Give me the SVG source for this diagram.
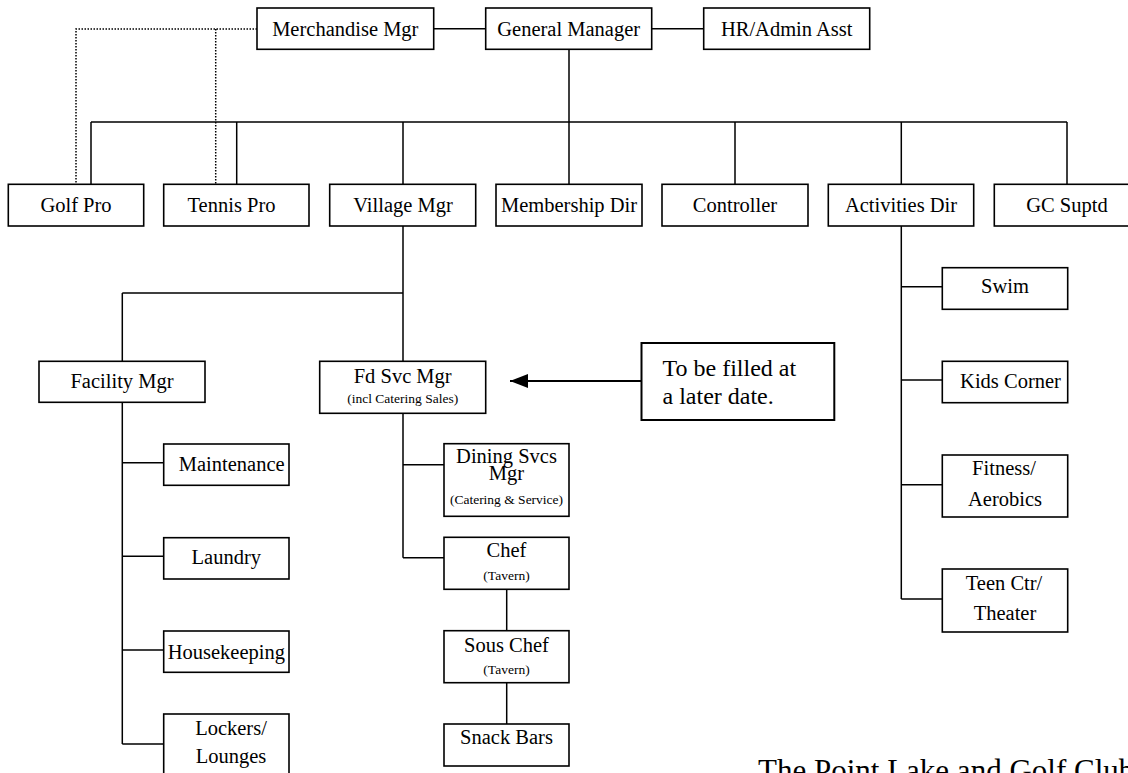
<svg xmlns="http://www.w3.org/2000/svg" width="1128" height="773" viewBox="0 0 1128 773">
<style>
.b{fill:#fff;stroke:#000;stroke-width:1.6}
.t{font-family:"Liberation Serif","Times New Roman",serif;font-size:20.5px;fill:#000;text-anchor:middle}
.s{font-family:"Liberation Serif","Times New Roman",serif;font-size:13.5px;fill:#000;text-anchor:middle}
.c{fill:none;stroke:#000;stroke-width:1.5}
.d{fill:none;stroke:#000;stroke-width:1.5;stroke-dasharray:1.5 1.5}
</style>
<defs>
<marker id="ah" markerWidth="9" markerHeight="7" refX="9" refY="3.5" orient="auto" markerUnits="strokeWidth"><path d="M0,0 L9,3.5 L0,7 Z" fill="#000"/></marker>
</defs>
<rect width="1128" height="773" fill="#fff"/>
<g id="connectors">
<path class="d" d="M257,29 H76 V184 M215.7,29 V184"/>
<path class="c" d="M433.7,28.7 H485.7 M651.7,28.7 H703.7"/>
<path class="c" d="M569,49 V184 M91,122 H1067 M91,122 V184 M236.7,122 V184 M403,122 V184 M735,122 V184 M901.3,122 V184 M1067,122 V184"/>
<path class="c" d="M403,226 V361 M122.3,293 H403 M122.3,293 V361"/>
<path class="c" d="M122.3,402 V744 M122.3,462.7 H163.7 M122.3,556.3 H163.7 M122.3,650 H163.7 M122.3,744 H163.7"/>
<path class="c" d="M403,413 V557.7 M403,464.7 H444 M403,557.7 H444 M506.7,589.3 V630.7 M506.7,682.7 V724"/>
<path class="c" d="M901.3,226 V599 M901.3,286.7 H942.3 M901.3,380 H942.3 M901.3,484.7 H942.3 M901.3,599 H942.3"/>
<path fill="none" stroke="#000" stroke-width="2" d="M641.5,381 H510" marker-end="url(#ah)"/>
</g>
<g id="merchandise-mgr"><rect class="b" x="257" y="8" width="176.7" height="41.3"/><text class="t" x="345.3" y="35.5">Merchandise Mgr</text></g>
<g id="general-manager"><rect class="b" x="485.7" y="8" width="166" height="41.3"/><text class="t" x="568.7" y="35.5">General Manager</text></g>
<g id="hr-admin-asst"><rect class="b" x="703.7" y="8" width="166" height="41.3"/><text class="t" x="786.7" y="35.5">HR/Admin Asst</text></g>
<g id="golf-pro"><rect class="b" x="8.3" y="184.3" width="135.4" height="41.7"/><text class="t" x="76" y="211.5">Golf Pro</text></g>
<g id="tennis-pro"><rect class="b" x="163.7" y="184.3" width="145.3" height="41.7"/><text class="t" x="231.5" y="211.5">Tennis Pro</text></g>
<g id="village-mgr"><rect class="b" x="329.7" y="184.3" width="146" height="41.7"/><text class="t" x="403" y="211.5">Village Mgr</text></g>
<g id="membership-dir"><rect class="b" x="496" y="184.3" width="146" height="41.7"/><text class="t" x="569" y="211.5">Membership Dir</text></g>
<g id="controller"><rect class="b" x="662" y="184.3" width="146" height="41.7"/><text class="t" x="735" y="211.5">Controller</text></g>
<g id="activities-dir"><rect class="b" x="828.3" y="184.3" width="145.4" height="41.7"/><text class="t" x="901" y="211.5">Activities Dir</text></g>
<g id="gc-suptd"><rect class="b" x="994.3" y="184.3" width="146" height="41.7"/><text class="t" x="1067" y="211.5">GC Suptd</text></g>
<g id="facility-mgr"><rect class="b" x="39" y="361.3" width="166" height="41"/><text class="t" x="122" y="388">Facility Mgr</text></g>
<g id="fd-svc-mgr"><rect class="b" x="319.7" y="361.3" width="166" height="52"/><text class="t" x="402.7" y="382.7">Fd Svc Mgr</text><text class="s" x="402.7" y="403.3">(incl Catering Sales)</text></g>
<g id="to-be-filled"><rect fill="#fff" stroke="#000" stroke-width="2" x="641.5" y="343" width="192.8" height="77"/><text font-family="'Liberation Serif','Times New Roman',serif" font-size="24" x="662.5" y="376">To be filled at</text><text font-family="'Liberation Serif','Times New Roman',serif" font-size="24" x="662.5" y="404">a later date.</text></g>
<g id="maintenance"><rect class="b" x="163.7" y="444" width="125.3" height="41.3"/><text class="t" x="231.7" y="471">Maintenance</text></g>
<g id="laundry"><rect class="b" x="163.7" y="537.7" width="125.3" height="41.3"/><text class="t" x="226.3" y="564">Laundry</text></g>
<g id="housekeeping"><rect class="b" x="163.7" y="631" width="125.3" height="41.3"/><text class="t" x="226.3" y="658.5">Housekeeping</text></g>
<g id="lockers-lounges"><rect class="b" x="163.7" y="714" width="125.3" height="70"/><text class="t" x="231" y="735">Lockers/</text><text class="t" x="231" y="762.7">Lounges</text></g>
<g id="dining-svcs-mgr"><rect class="b" x="444" y="443.7" width="125" height="72.6"/><text class="t" x="506.5" y="463">Dining Svcs</text><text class="t" x="506.5" y="480">Mgr</text><text class="s" x="506.5" y="504">(Catering &amp; Service)</text></g>
<g id="chef"><rect class="b" x="444" y="537.3" width="125" height="52"/><text class="t" x="506.5" y="557">Chef</text><text class="s" x="506.5" y="580">(Tavern)</text></g>
<g id="sous-chef"><rect class="b" x="444" y="630.7" width="125" height="52"/><text class="t" x="506.5" y="651.7">Sous Chef</text><text class="s" x="506.5" y="674">(Tavern)</text></g>
<g id="snack-bars"><rect class="b" x="444" y="724" width="125" height="42"/><text class="t" x="506.5" y="744">Snack Bars</text></g>
<g id="swim"><rect class="b" x="942.3" y="267.7" width="125.4" height="41.6"/><text class="t" x="1005" y="293">Swim</text></g>
<g id="kids-corner"><rect class="b" x="942.3" y="361.3" width="125.4" height="41.4"/><text class="t" x="1010.5" y="388">Kids Corner</text></g>
<g id="fitness-aerobics"><rect class="b" x="942.3" y="455" width="125.4" height="62"/><text class="t" x="1004" y="475">Fitness/</text><text class="t" x="1005" y="506">Aerobics</text></g>
<g id="teen-ctr-theater"><rect class="b" x="942.3" y="569" width="125.4" height="63"/><text class="t" x="1004" y="590">Teen Ctr/</text><text class="t" x="1005" y="620">Theater</text></g>
<text font-family="'Liberation Serif','Times New Roman',serif" font-size="31" x="758" y="781">The Point Lake and Golf Club</text>
</svg>
